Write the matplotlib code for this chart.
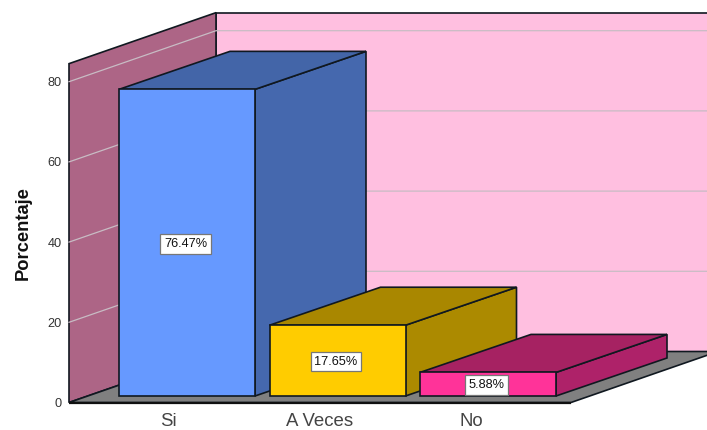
import matplotlib
matplotlib.use("Agg")
from matplotlib import pyplot as plt
from matplotlib.patches import Polygon

plt.rcParams['font.family'] = ['Liberation Sans', 'DejaVu Sans']

categories = ["Si", "A Veces", "No"]
values = [76.47, 17.65, 5.88]
value_labels = ["76.47%", "17.65%", "5.88%"]
ticks = [0, 20, 40, 60, 80]
y_max = 84.5

front_colors = ["#6699FF", "#FFCC00", "#FF3399"]
top_colors = ["#4365A8", "#A98700", "#A62262"]
side_colors = ["#4568AE", "#AC8A00", "#AE2269"]

# the chart is an oblique projection, worked out in image pixels
x0, y0 = 69, 402.5
scale = 4.01
floor_w = 502
wall_dx, wall_dy = 147, -51
bar_off_x, bar_off_y = 50, -6.5
bar_w = 136
bar_step = 150.5
bar_dx, bar_dy = 111, -38


def to_y(v):
    return y0 - v * scale


fig = plt.figure(figsize=(7.07, 4.30), dpi=100)
ax = fig.add_axes([0, 0, 1, 1])
ax.set_xlim(0, 707)
ax.set_ylim(430, 0)
ax.axis("off")


def face(pts, color, lw=1.2, edge="#101820", z=2):
    ax.add_patch(Polygon(pts, closed=True, facecolor=color, edgecolor=edge, linewidth=lw, zorder=z))


xr = 760
top = to_y(y_max)

# back wall, side wall, floor
face([(x0 + wall_dx, top + wall_dy), (xr, top + wall_dy), (xr, y0 + wall_dy), (x0 + wall_dx, y0 + wall_dy)],
     "#FFBFE0", edge="#101820", z=1)
face([(x0, top), (x0 + wall_dx, top + wall_dy), (x0 + wall_dx, y0 + wall_dy), (x0, y0)], "#AD6586", z=1)
face([(x0, y0), (x0 + wall_dx, y0 + wall_dy), (x0 + floor_w + wall_dx, y0 + wall_dy), (x0 + floor_w, y0)],
     "#808080", z=1.5)
ax.plot([x0, x0 + floor_w], [y0 + 0.5, y0 + 0.5], color="#101010", lw=1.6, zorder=3, solid_capstyle="butt")

# gridlines on both walls
for t in ticks[1:]:
    y = to_y(t)
    ax.plot([x0, x0 + wall_dx, xr], [y, y + wall_dy, y + wall_dy], color="#C8BCC4", lw=0.9, zorder=1.2)

# bars, drawn left to right so the nearer ones overlap
for i, v in enumerate(values):
    xl = x0 + bar_off_x + i * bar_step
    xh = xl + bar_w
    yb = y0 + bar_off_y
    yt = yb - v * scale
    face([(xh, yb), (xh + bar_dx, yb + bar_dy), (xh + bar_dx, yt + bar_dy), (xh, yt)], side_colors[i], z=4 + i)
    face([(xl, yt), (xl + bar_dx, yt + bar_dy), (xh + bar_dx, yt + bar_dy), (xh, yt)], top_colors[i], z=4 + i)
    face([(xl, yb), (xh, yb), (xh, yt), (xl, yt)], front_colors[i], z=4 + i)
    ax.text((xl + xh) / 2 - 1.5, (yb + yt) / 2 + 1, value_labels[i], ha="center", va="center", fontsize=9.2,
            color="#111111", zorder=10,
            bbox=dict(boxstyle="square,pad=0.3", facecolor="white", edgecolor="#777777", linewidth=0.9))
    ax.text(xl + 49 + i * 1.2, 421, categories[i], ha="center", va="center", fontsize=13.4, color="#444444", zorder=10)

# value axis
for t in ticks:
    ax.text(62, to_y(t) + 1.5, str(t), ha="right", va="center", fontsize=9.2, color="#333333")
ax.text(23, 233, "Porcentaje", rotation=90, ha="center", va="center", fontsize=13.2, fontweight="bold",
        color="#111111")

fig.savefig("out.png", dpi=100)
